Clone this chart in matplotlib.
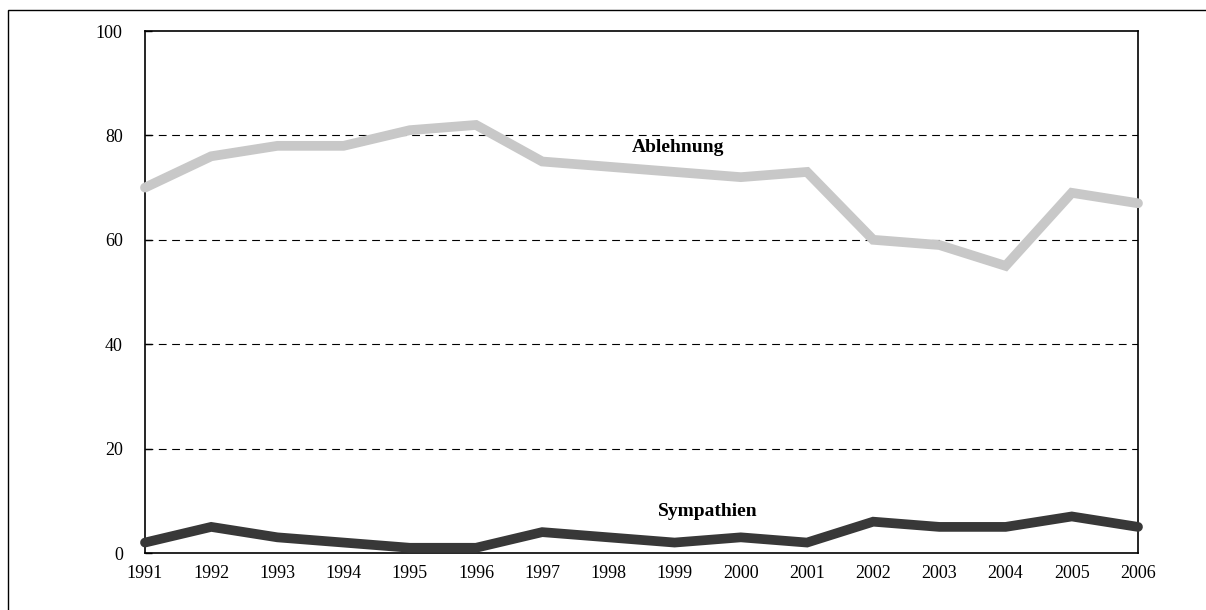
import matplotlib
matplotlib.use("Agg")
import matplotlib.pyplot as plt
from matplotlib.patches import Rectangle

years = list(range(1991, 2007))
ablehnung = [70, 76, 78, 78, 81, 82, 75, 74, 73, 72, 73, 60, 59, 55, 69, 67]
sympathien = [2, 5, 3, 2, 1, 1, 4, 3, 2, 3, 2, 6, 5, 5, 7, 5]
y_ticks = [0, 20, 40, 60, 80, 100]

plt.rcParams["font.family"] = ["Liberation Serif", "DejaVu Serif"]

W, H = 1206, 610
fig = plt.figure(figsize=(W / 100, H / 100), dpi=100, facecolor="white")
ax = fig.add_axes([145 / W, 1 - 553 / H, (1138 - 145) / W, (553 - 31) / H])

for yv in y_ticks[1:-1]:
    ax.axhline(yv, color="black", lw=0.8, linestyle=(0, (7, 5)), zorder=1)

ax.plot(years, ablehnung, color="#c8c8c8", lw=7, solid_capstyle="round",
        solid_joinstyle="miter", clip_on=False, zorder=3)
ax.plot(years, sympathien, color="#383838", lw=7, solid_capstyle="round",
        solid_joinstyle="miter", clip_on=False, zorder=3)

ax.text(1999.05, 77.6, "Ablehnung", ha="center", va="center",
        fontsize=14, fontweight="bold")
ax.text(1999.5, 8.0, "Sympathien", ha="center", va="center",
        fontsize=14, fontweight="bold")

ax.set_xlim(1991, 2006)
ax.set_ylim(0, 100)
ax.set_xticks(years)
ax.set_yticks(y_ticks)
ax.tick_params(axis="x", length=0, pad=9, labelsize=13)
ax.tick_params(axis="y", direction="in", length=5, width=1, pad=16, labelsize=13)
for s in ax.spines.values():
    s.set_linewidth(1.2)
    s.set_color("black")

# outer frame (right and bottom fall off the canvas)
fig.add_artist(Rectangle((8 / W, -0.1), 1.1, 1 - 10 / H + 0.1,
                         transform=fig.transFigure, fill=False,
                         edgecolor="black", lw=1))

fig.savefig("out.png", dpi=100, facecolor="white")
